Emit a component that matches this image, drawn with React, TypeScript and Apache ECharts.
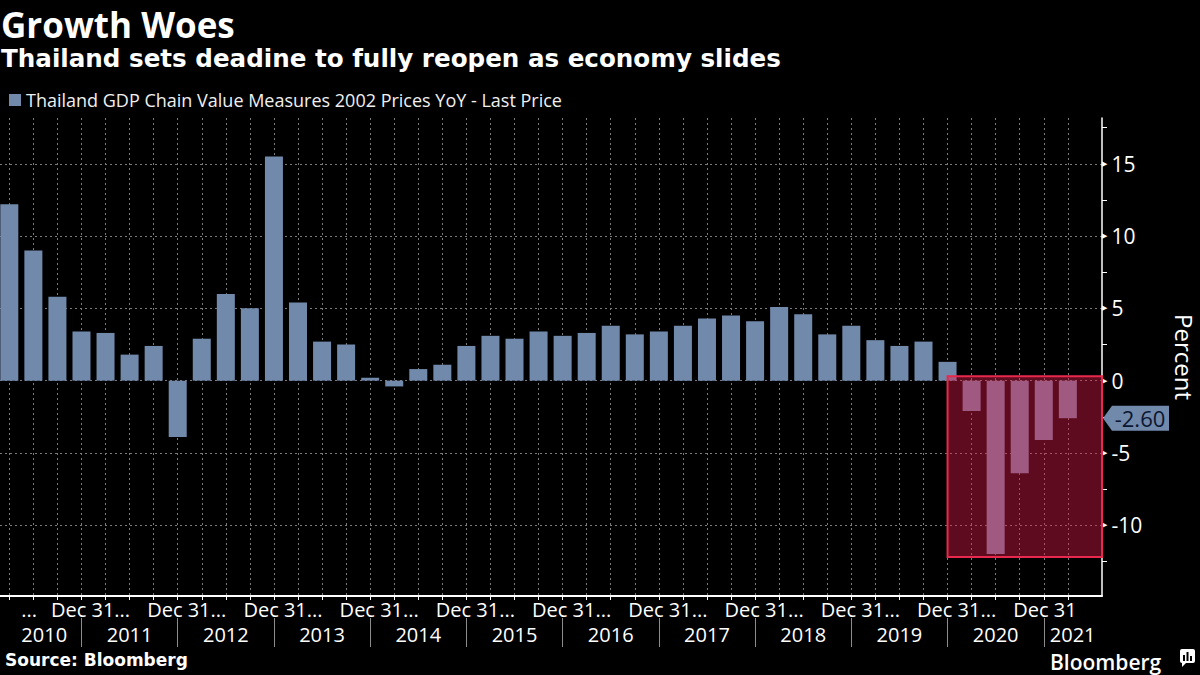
import React, { useEffect, useRef } from 'react';
import * as echarts from 'echarts';

// ---------- data ----------
const seriesName = 'Thailand GDP Chain Value Measures 2002 Prices YoY - Last Price';

const quarterEnds = [
  '2010-03-31', '2010-06-30', '2010-09-30', '2010-12-31',
  '2011-03-31', '2011-06-30', '2011-09-30', '2011-12-31',
  '2012-03-31', '2012-06-30', '2012-09-30', '2012-12-31',
  '2013-03-31', '2013-06-30', '2013-09-30', '2013-12-31',
  '2014-03-31', '2014-06-30', '2014-09-30', '2014-12-31',
  '2015-03-31', '2015-06-30', '2015-09-30', '2015-12-31',
  '2016-03-31', '2016-06-30', '2016-09-30', '2016-12-31',
  '2017-03-31', '2017-06-30', '2017-09-30', '2017-12-31',
  '2018-03-31', '2018-06-30', '2018-09-30', '2018-12-31',
  '2019-03-31', '2019-06-30', '2019-09-30', '2019-12-31',
  '2020-03-31', '2020-06-30', '2020-09-30', '2020-12-31',
  '2021-03-31',
];

const gdpYoY = [
  12.2, 9.0, 5.8, 3.4,
  3.3, 1.8, 2.4, -3.9,
  2.9, 6.0, 5.0, 15.5,
  5.4, 2.7, 2.5, 0.2,
  -0.4, 0.8, 1.1, 2.4,
  3.1, 2.9, 3.4, 3.1,
  3.3, 3.8, 3.2, 3.4,
  3.8, 4.3, 4.5, 4.1,
  5.1, 4.6, 3.2, 3.8,
  2.8, 2.4, 2.7, 1.3,
  -2.1, -12.0, -6.4, -4.1,
  -2.6,
];

// x axis (in bar-index units)
const xMin = -0.387;
const xMax = 45.42;
const barTicks = [
  0, 1, 2, 3, 4, 5, 6, 7, 8, 9, 10, 11, 12, 13, 14, 15, 16, 17, 18, 19, 20, 21,
  22, 23, 24, 25, 26, 27, 28, 29, 30, 31, 32, 33, 34, 35, 36, 37, 38, 39, 40, 41, 42, 43, 44,
];
// date labels are left-aligned at these positions
const dateLabelAt = [0.5, 1.73, 5.73, 9.73, 13.73, 17.73, 21.73, 25.73, 29.73, 33.73, 37.73, 41.73];
const dateLabelText = ['...', 'Dec 31...', 'Dec 31...', 'Dec 31...', 'Dec 31...', 'Dec 31...', 'Dec 31...', 'Dec 31...', 'Dec 31...', 'Dec 31...', 'Dec 31...', 'Dec 31'];
const yearEndAt = [3, 7, 11, 15, 19, 23, 27, 31, 35, 39, 43];
const yearLabels = ['2010', '2011', '2012', '2013', '2014', '2015', '2016', '2017', '2018', '2019', '2020', '2021'];
const yearLabelAt = [1.45, 5, 9, 13, 17, 21, 25, 29, 33, 37, 41, 44.2];

// y axis
const yMin = -14.9;
const yMax = 18.17;
const yMajorTicks = [-10, -5, 0, 5, 10, 15];
const yMinorTicks = [-12.5, -7.5, -2.5, 2.5, 7.5, 12.5, 17.5];

// highlighted box: [x from, x to, y top, y bottom]
const highlightBox = [39, xMax, 0.3, -12.2];

const lastValue = gdpYoY[gdpYoY.length - 1];

// ---------- styles ----------
const BAR = '#7189ab';
const GRID = '#7a7a7a';
const SANS = "'Open Sans', 'Noto Sans', sans-serif";
const BOLD = "'DejaVu Sans', sans-serif";

export default function App() {
  const ref = useRef<HTMLDivElement>(null);

  useEffect(() => {
    if (!ref.current) return;
    const chart = echarts.init(ref.current, null, { renderer: 'svg' });

    const option: any = {
      animation: false,
      backgroundColor: '#000',
      title: [
        {
          text: 'Growth Woes', left: 1, top: 3, padding: 0,
          textStyle: { color: '#fff', fontFamily: SANS, fontWeight: 'bold', fontSize: 35, lineHeight: 42 },
        },
        {
          text: 'Thailand sets deadine to fully reopen as economy slides', left: 1, top: 46, padding: 0,
          textStyle: { color: '#fff', fontFamily: BOLD, fontWeight: 'bold', fontSize: 24.6 },
        },
        {
          text: 'Source: Bloomberg', left: 5, top: 651, padding: 0,
          textStyle: { color: '#fff', fontFamily: BOLD, fontWeight: 'bold', fontSize: 17 },
        },
      ],
      legend: {
        data: [seriesName],
        left: 9, top: 91, padding: 0,
        icon: 'rect', itemWidth: 12, itemHeight: 12, itemGap: 5,
        textStyle: { color: '#f0f0f0', fontFamily: SANS, fontSize: 18, padding: [0, 0, 0, 0] },
      },
      grid: { left: 0, right: 98, top: 118, bottom: 79, containLabel: false, outerBoundsMode: 'none' },
      xAxis: [
        {
          type: 'value', min: xMin, max: xMax, position: 'bottom',
          axisLine: { show: true, onZero: false, lineStyle: { color: '#fff', width: 2 } },
          axisTick: { show: true, customValues: barTicks, length: 4, lineStyle: { color: '#fff', width: 1 } },
          axisLabel: {
            customValues: dateLabelAt,
            formatter: (v: number) => dateLabelText[dateLabelAt.indexOf(v)] ?? '',
            align: 'left',
            color: '#fff', fontFamily: SANS, fontSize: 20, lineHeight: 20, margin: 3,
          },
          splitLine: { show: true, lineStyle: { color: GRID, type: [2, 3], width: 1 } },
        },
        {
          type: 'value', min: xMin, max: xMax, position: 'bottom', offset: 22,
          axisLine: { show: false, onZero: false },
          axisTick: { show: true, customValues: yearEndAt, length: 29, lineStyle: { color: '#8c8c8c', width: 1 } },
          axisLabel: {
            customValues: yearLabelAt,
            formatter: (v: number) => yearLabels[yearLabelAt.indexOf(v)] ?? '',
            color: '#fff', fontFamily: SANS, fontSize: 20, lineHeight: 20, margin: 6,
          },
          splitLine: { show: false },
        },
      ],
      yAxis: [
        {
          type: 'value', min: yMin, max: yMax, position: 'right',
          axisLine: { show: true, onZero: false, lineStyle: { color: '#fff', width: 1.5 } },
          axisTick: { show: false, customValues: yMajorTicks },
          axisLabel: {
            customValues: yMajorTicks,
            margin: 0,
            formatter: (v: number) => `{t|▶}{v|${v}}`,
            rich: {
              t: { fontFamily: BOLD, fontSize: 7, color: '#fff', padding: [0, 4, 0, 0] },
              v: { fontFamily: SANS, fontSize: 21, color: '#fff' },
            },
          },
          splitLine: { show: true, lineStyle: { color: GRID, type: [2, 3], width: 1 } },
          name: 'Percent', nameLocation: 'middle', nameRotate: -90, nameGap: 70,
          nameTextStyle: { color: '#fff', fontFamily: SANS, fontSize: 24 },
        },
        {
          type: 'value', min: yMin, max: yMax, position: 'right',
          axisLine: { show: false, onZero: false },
          axisTick: { show: true, customValues: yMinorTicks, length: 5, lineStyle: { color: '#fff', width: 1 } },
          axisLabel: { show: false },
          splitLine: { show: false },
        },
      ],
      series: [
        {
          name: seriesName,
          type: 'bar',
          xAxisIndex: 0, yAxisIndex: 0,
          barWidth: 18,
          itemStyle: { color: BAR },
          z: 2,
          data: gdpYoY.map((v, i) => ({ name: quarterEnds[i], value: [i, v] })),
          markPoint: {
            symbol: 'path://M0,12.5L9,0L66,0L66,25L9,25Z',
            symbolSize: [66, 25],
            symbolOffset: [34, 0],
            itemStyle: { color: BAR },
            label: {
              show: true, position: 'inside', offset: [4, 0],
              formatter: () => lastValue.toFixed(2),
              color: '#0b1730', fontFamily: SANS, fontSize: 22,
            },
            data: [{ coord: [xMax, lastValue], value: lastValue }],
          },
        },
        {
          name: 'highlight',
          type: 'custom',
          xAxisIndex: 0, yAxisIndex: 0,
          z: 3,
          silent: true,
          data: [highlightBox],
          renderItem: (_params: any, api: any) => {
            const p0 = api.coord([api.value(0), api.value(2)]);
            const p1 = api.coord([api.value(1), api.value(3)]);
            return {
              type: 'rect',
              shape: { x: p0[0], y: p0[1], width: p1[0] - p0[0], height: p1[1] - p0[1] },
              style: { fill: 'rgba(226,26,74,0.42)', stroke: '#e8294d', lineWidth: 2 },
            };
          },
        },
      ],
      graphic: [
        {
          type: 'text', left: 1050, top: 651,
          style: { text: 'Bloomberg', fill: '#fff', font: "600 21px 'Open Sans', sans-serif", lineHeight: 20 },
        },
        {
          type: 'group', left: 1180, top: 649,
          children: [
            { type: 'rect', shape: { x: 0, y: 0, width: 15, height: 14, r: 2 }, style: { fill: '#fff' } },
            { type: 'polygon', shape: { points: [[2, 13], [2, 18], [7, 13]] }, style: { fill: '#fff' } },
            { type: 'rect', shape: { x: 3, y: 6, width: 2, height: 6 }, style: { fill: '#000' } },
            { type: 'rect', shape: { x: 6.5, y: 3, width: 2, height: 9 }, style: { fill: '#000' } },
            { type: 'rect', shape: { x: 10, y: 7, width: 2, height: 5 }, style: { fill: '#000' } },
          ],
        },
      ],
    };

    chart.setOption(option);
    return () => chart.dispose();
  }, []);

  return (
    <div
      ref={ref}
      style={{ position: 'fixed', left: 0, top: 0, width: 1200, height: 675, background: '#000' }}
    />
  );
}
